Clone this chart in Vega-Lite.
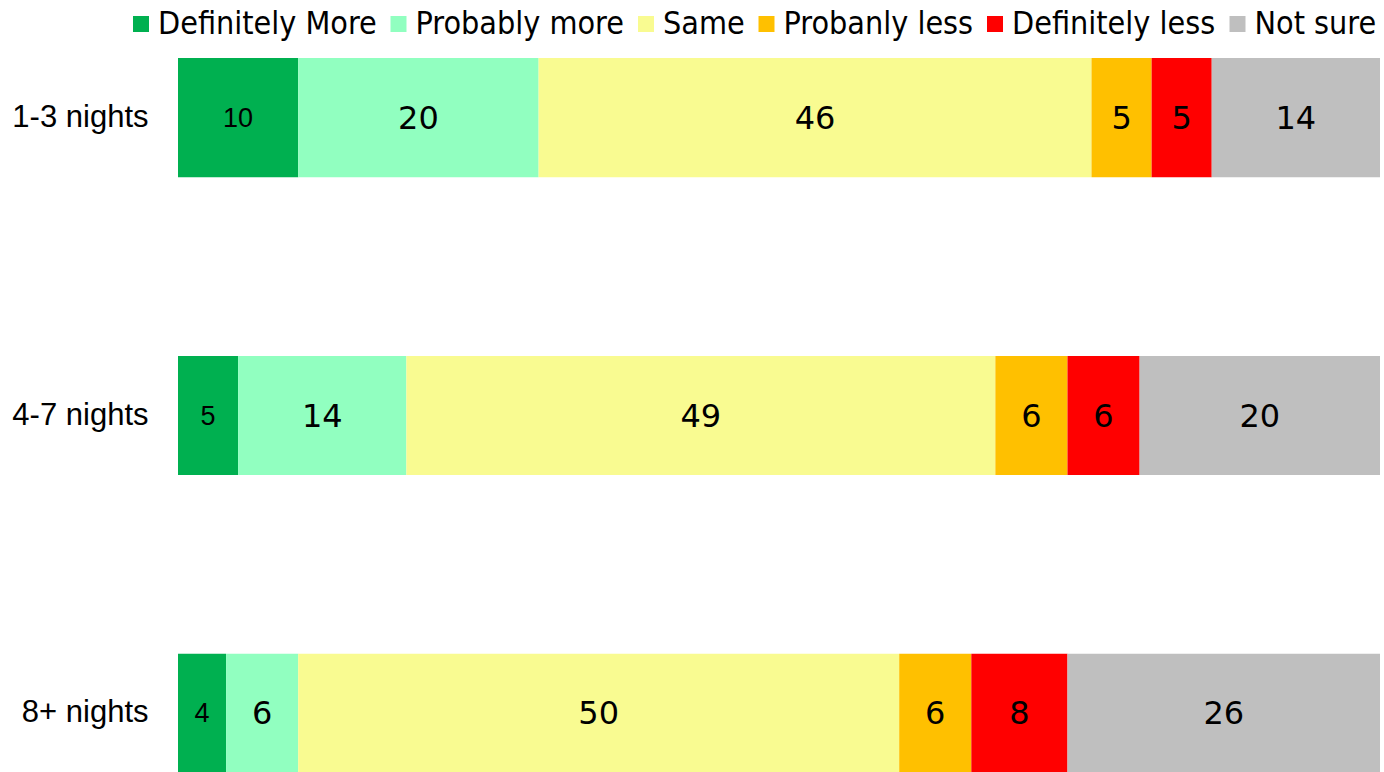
{
  "$schema": "https://vega.github.io/schema/vega-lite/v6.json",
  "autosize": {"type": "none"},
  "width": 1202,
  "height": 715,
  "padding": {"left": 178, "top": 58, "right": 4, "bottom": 0},
  "background": "white",
  "config": {"view": {"stroke": null}},
  "data": {
    "values": [
      {"stay": "1-3 nights", "cat": "Definitely More", "o": 1, "value": 10},
      {"stay": "1-3 nights", "cat": "Probably more", "o": 2, "value": 20},
      {"stay": "1-3 nights", "cat": "Same", "o": 3, "value": 46},
      {"stay": "1-3 nights", "cat": "Probanly less", "o": 4, "value": 5},
      {"stay": "1-3 nights", "cat": "Definitely less", "o": 5, "value": 5},
      {"stay": "1-3 nights", "cat": "Not sure", "o": 6, "value": 14},
      {"stay": "4-7 nights", "cat": "Definitely More", "o": 1, "value": 5},
      {"stay": "4-7 nights", "cat": "Probably more", "o": 2, "value": 14},
      {"stay": "4-7 nights", "cat": "Same", "o": 3, "value": 49},
      {"stay": "4-7 nights", "cat": "Probanly less", "o": 4, "value": 6},
      {"stay": "4-7 nights", "cat": "Definitely less", "o": 5, "value": 6},
      {"stay": "4-7 nights", "cat": "Not sure", "o": 6, "value": 20},
      {"stay": "8+ nights", "cat": "Definitely More", "o": 1, "value": 4},
      {"stay": "8+ nights", "cat": "Probably more", "o": 2, "value": 6},
      {"stay": "8+ nights", "cat": "Same", "o": 3, "value": 50},
      {"stay": "8+ nights", "cat": "Probanly less", "o": 4, "value": 6},
      {"stay": "8+ nights", "cat": "Definitely less", "o": 5, "value": 8},
      {"stay": "8+ nights", "cat": "Not sure", "o": 6, "value": 26}
    ]
  },
  "encoding": {
    "y": {
      "field": "stay", "type": "nominal", "sort": ["1-3 nights", "4-7 nights", "8+ nights"],
      "scale": {"paddingInner": 0.6, "paddingOuter": 0},
      "axis": {"title": null, "domain": false, "ticks": false, "labelFont": "Liberation Sans", "labelFontSize": 31, "labelColor": "black", "labelPadding": 30}
    }
  },
  "layer": [
    {
      "mark": {"type": "bar"},
      "encoding": {
        "x": {"field": "value", "type": "quantitative", "stack": "zero", "scale": {"domain": [0, 100], "nice": false}, "axis": null},
        "order": {"field": "o", "type": "quantitative"},
        "color": {
          "field": "cat", "type": "nominal",
          "scale": {
            "domain": ["Definitely More", "Probably more", "Same", "Probanly less", "Definitely less", "Not sure"],
            "range": ["#00B050", "#91FFC0", "#F9FB91", "#FFC000", "#FF0000", "#BFBFBF"]
          },
          "legend": {
            "title": null, "orient": "none", "direction": "horizontal",
            "legendX": -53, "legendY": -50,
            "symbolType": "square", "symbolSize": 256, "symbolStrokeWidth": 0,
            "labelFont": "DejaVu Sans Condensed", "labelFontSize": 32, "labelColor": "black",
            "labelOffset": 1, "columnPadding": 5.5, "labelLimit": 400
          }
        }
      }
    },
    {
      "mark": {"type": "text", "font": "Liberation Sans", "fontSize": 27, "color": "black", "baseline": "middle", "align": "center", "dy": 1},
      "encoding": {
        "x": {"field": "value", "type": "quantitative", "stack": "zero", "bandPosition": 0.5},
        "order": {"field": "o", "type": "quantitative"},
        "text": {"condition": {"test": "datum.cat !== 'Definitely More'", "value": ""}, "field": "value", "type": "quantitative"}
      }
    },
    {
      "mark": {"type": "text", "font": "DejaVu Sans", "fontSize": 32, "color": "black", "baseline": "middle", "align": "center", "dy": 1},
      "encoding": {
        "x": {"field": "value", "type": "quantitative", "stack": "zero", "bandPosition": 0.5},
        "order": {"field": "o", "type": "quantitative"},
        "text": {"condition": {"test": "datum.cat === 'Definitely More'", "value": ""}, "field": "value", "type": "quantitative"}
      }
    }
  ]
}
